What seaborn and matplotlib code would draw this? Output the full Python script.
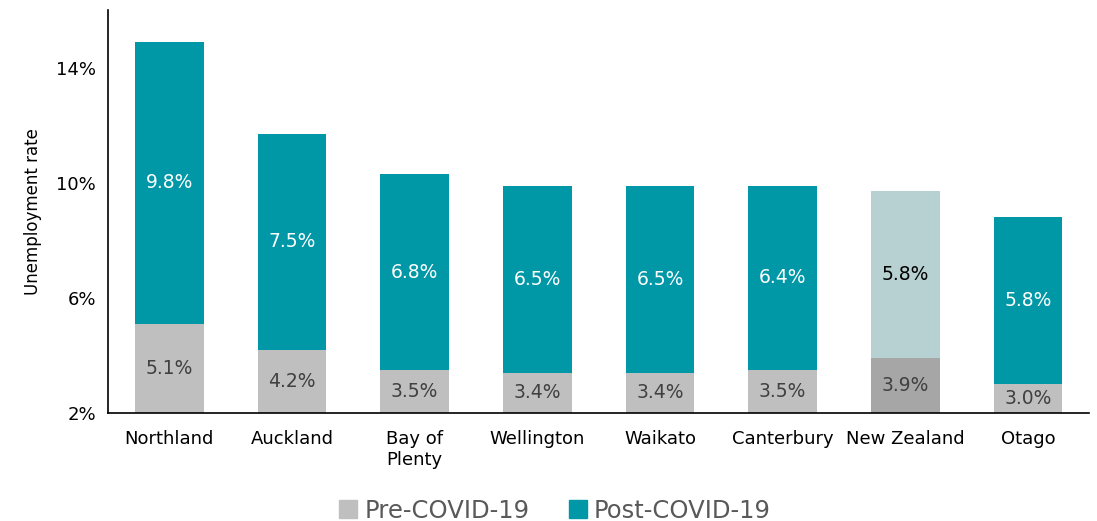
import matplotlib
matplotlib.use("Agg")
import matplotlib.pyplot as plt
from matplotlib.patches import Patch
from matplotlib.ticker import FuncFormatter, FixedLocator
import seaborn as sns

# ----------------------------------------------------------
# Data
# ----------------------------------------------------------
regions = ["Northland", "Auckland", "Bay of\nPlenty", "Wellington", "Waikato",
           "Canterbury", "New Zealand", "Otago"]
pre_covid = [5.1, 4.2, 3.5, 3.4, 3.4, 3.5, 3.9, 3.0]
post_increase = [9.8, 7.5, 6.8, 6.5, 6.5, 6.4, 5.8, 5.8]
y_ticks = [2, 6, 10, 14]

TEAL = "#0097A7"
GREY = "#BFBFBF"
NZ_POST = "#B7D0D1"
NZ_PRE = "#A6A6A6"

totals = [p + q for p, q in zip(pre_covid, post_increase)]
post_colors = [NZ_POST if r == "New Zealand" else TEAL for r in regions]
pre_colors = [NZ_PRE if r == "New Zealand" else GREY for r in regions]

# ----------------------------------------------------------
# Figure
# ----------------------------------------------------------
sns.set_style("white")
plt.rcParams["font.family"] = ["DejaVu Sans"]
plt.rcParams["text.color"] = "black"
plt.rcParams["xtick.color"] = "black"
plt.rcParams["ytick.color"] = "black"
plt.rcParams["axes.labelcolor"] = "black"

fig = plt.figure(figsize=(10.97, 5.21), dpi=100)
ax = fig.add_axes([0.0985, 0.207, 0.8945, 0.774])

sns.barplot(x=regions, y=totals, hue=regions, palette=post_colors, legend=False,
            width=0.56, saturation=1, linewidth=0, ax=ax)
sns.barplot(x=regions, y=pre_covid, hue=regions, palette=pre_colors, legend=False,
            width=0.56, saturation=1, linewidth=0, ax=ax)

ax.set_ylim(2, 16)
ax.set_xlim(-0.5, len(regions) - 0.5)

# segment labels
for i, r in enumerate(regions):
    ax.text(i, (2 + pre_covid[i]) / 2, f"{pre_covid[i]:.1f}%", ha="center", va="center",
            fontsize=13.5, color="#404040")
    post_col = "black" if r == "New Zealand" else "white"
    ax.text(i, (pre_covid[i] + totals[i]) / 2, f"{post_increase[i]:.1f}%", ha="center",
            va="center", fontsize=13.5, color=post_col)

ax.set_yticks(y_ticks)
ax.yaxis.set_major_formatter(FuncFormatter(lambda v, _: f"{v:.0f}%"))
ax.set_ylabel("Unemployment rate", fontsize=12, labelpad=10)
ax.set_xlabel("")

ax.xaxis.set_minor_locator(FixedLocator([i - 0.5 for i in range(len(regions) + 1)]))
ax.tick_params(axis="x", which="major", length=0, labelsize=13, pad=12)
ax.tick_params(axis="x", which="minor", length=5, width=1, color="black", direction="out")
ax.tick_params(axis="y", length=5, width=1, color="black", direction="out", labelsize=13)

for s in ["top", "right"]:
    ax.spines[s].set_visible(False)
for s in ["left", "bottom"]:
    ax.spines[s].set_color("black")
    ax.spines[s].set_linewidth(1.2)

handles = [Patch(color=GREY, label="Pre-COVID-19"), Patch(color=TEAL, label="Post-COVID-19")]
leg = fig.legend(handles=handles, loc="center", bbox_to_anchor=(0.506, 0.02), ncol=2,
                 frameon=False, fontsize=17.5, handlelength=0.75, handleheight=0.75,
                 handletextpad=0.3, columnspacing=1.6)
for t in leg.get_texts():
    t.set_color("#595959")

fig.savefig("out.png", dpi=100)
